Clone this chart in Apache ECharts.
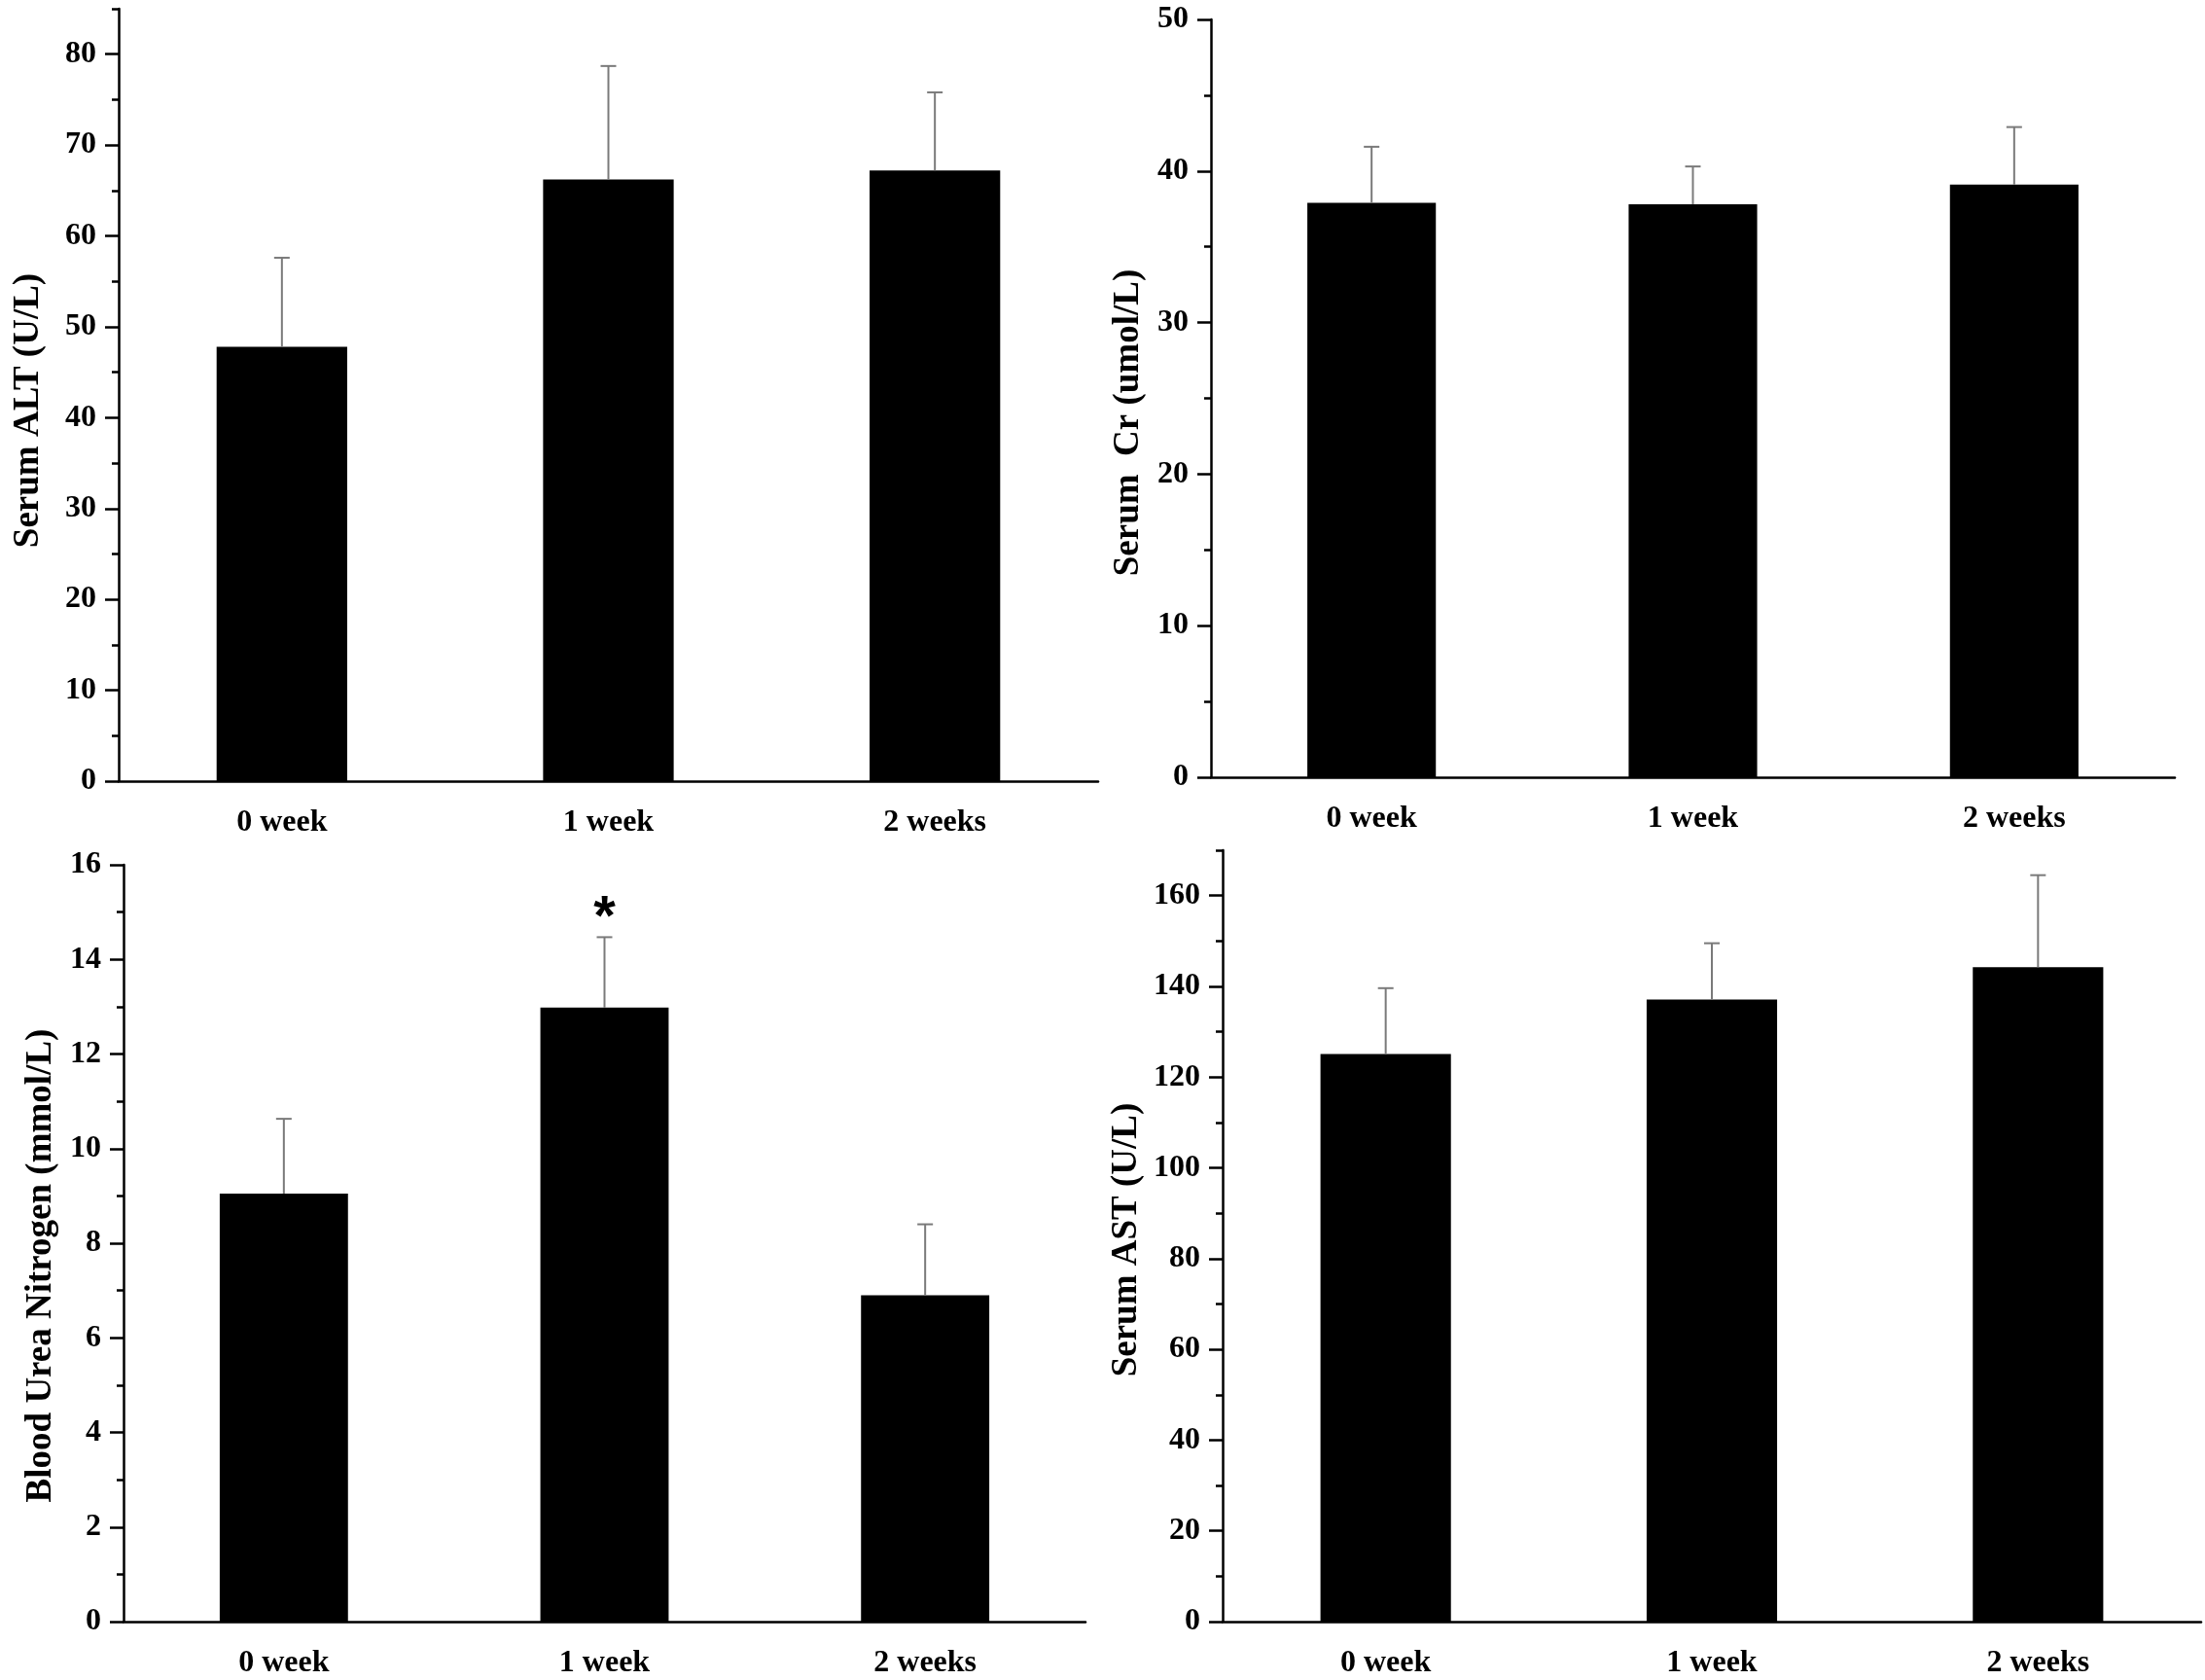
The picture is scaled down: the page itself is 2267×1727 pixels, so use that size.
<!DOCTYPE html>
<html>
<head>
<meta charset="utf-8">
<title>Serum markers</title>
<script src="https://cdn.jsdelivr.net/npm/echarts@6.0.0/dist/echarts.min.js"></script>
<style>
	html, body { margin: 0; padding: 0; background: #fff; }
	#main { width: 2267px; height: 1727px; }
</style>
</head>
<body>
<div id="main"></div>
<script>
	// 分类
	var weeks = ['0 week', '1 week', '2 weeks'];

	// 血清 ALT
	var altMean = [47.8, 66.2, 67.2];
	var altSd = [9.8, 12.5, 8.6];
	// 血清 Cr
	var crMean = [37.9, 37.8, 39.1];
	var crSd = [3.7, 2.5, 3.8];
	// 尿素氮
	var bunMean = [9.05, 12.98, 6.9];
	var bunSd = [1.58, 1.49, 1.5];
	var bunMark = ['', '*', ''];
	// 血清 AST
	var astMean = [125.1, 137.1, 144.2];
	var astSd = [14.5, 12.4, 20.3];

	// y轴刻度
	var altTicks = [0, 10, 20, 30, 40, 50, 60, 70, 80];
	var crTicks = [0, 10, 20, 30, 40, 50];
	var bunTicks = [0, 2, 4, 6, 8, 10, 12, 14, 16];
	var astTicks = [0, 20, 40, 60, 80, 100, 120, 140, 160];

	var FONT = 'Liberation Serif';

	var panels = [
		{ name: 'Serum ALT (U/L)', mean: altMean, sd: altSd, mark: null, ticks: altTicks, max: 85, minor: 5,
		  grid: { left: 122, top: 9, width: 1007, height: 794 }, nameGap: 74, namePad: 32 },
		{ name: 'Serum  Cr (umol/L)', mean: crMean, sd: crSd, mark: null, ticks: crTicks, max: 50, minor: 5,
		  grid: { left: 1245, top: 20, width: 991, height: 779 }, nameGap: 66, namePad: 50 },
		{ name: 'Blood Urea Nitrogen (mmol/L)', mean: bunMean, sd: bunSd, mark: bunMark, ticks: bunTicks, max: 16, minor: 1,
		  grid: { left: 127, top: 889, width: 989, height: 778 }, nameGap: 66, namePad: 46 },
		{ name: 'Serum AST (U/L)', mean: astMean, sd: astSd, mark: null, ticks: astTicks, max: 170, minor: 10,
		  grid: { left: 1257, top: 874, width: 1006, height: 793 }, nameGap: 80, namePad: 8 }
	];

	// 误差线 + 星号
	function renderErr(params, api) {
		var idx = api.value(0);
		var p0 = api.coord([idx, api.value(1)]);
		var p1 = api.coord([idx, api.value(2)]);
		var lineStyle = { stroke: '#7a7a7a', lineWidth: 2 };
		var children = [
			{ type: 'line', shape: { x1: p0[0], y1: p0[1], x2: p1[0], y2: p1[1] }, style: lineStyle },
			{ type: 'line', shape: { x1: p1[0] - 8, y1: p1[1], x2: p1[0] + 8, y2: p1[1] }, style: lineStyle }
		];
		var mark = params.seriesName.indexOf('mark') >= 0 ? api.value(3) : '';
		if (mark) {
			children.push({
				type: 'text',
				x: p1[0], y: p1[1] - 18,
				style: { text: mark, fill: '#000', font: 'bold 58px "Liberation Sans"', align: 'center', verticalAlign: 'middle' }
			});
		}
		return { type: 'group', children: children };
	}

	var grids = [], xAxes = [], yAxes = [], series = [];

	panels.forEach(function(p, i) {
		grids.push(p.grid);

		// 主x轴：标签和居中刻度
		xAxes.push({
			type: 'category', gridIndex: i, data: weeks,
			axisLine: { lineStyle: { color: '#000', width: 2.5 } },
			axisTick: { alignWithLabel: true, length: 15, lineStyle: { color: '#000', width: 2.5 } },
			axisLabel: { color: '#000', fontFamily: FONT, fontWeight: 'bold', fontSize: 32, margin: 27 }
		});
		// 副x轴：分隔处的短刻度
		xAxes.push({
			type: 'category', gridIndex: i, data: weeks, position: 'bottom',
			axisLine: { show: false },
			axisTick: { length: 8, lineStyle: { color: '#000', width: 2.5 } },
			axisLabel: { show: false }
		});

		yAxes.push({
			type: 'value', gridIndex: i, min: 0, max: p.max, position: 'left',
			name: p.name, nameLocation: 'middle', nameGap: p.nameGap,
			nameTextStyle: { color: '#000', fontFamily: FONT, fontWeight: 'bold', fontSize: 37, padding: [0, p.namePad, 0, 0] },
			axisLine: { show: true, lineStyle: { color: '#000', width: 2.5 } },
			axisTick: { show: true, length: 14, customValues: p.ticks, lineStyle: { color: '#000', width: 2.5 } },
			axisLabel: { color: '#000', fontFamily: FONT, fontWeight: 'bold', fontSize: 32, margin: 23, customValues: p.ticks },
			splitLine: { show: false }
		});
		// 次刻度
		yAxes.push({
			type: 'value', gridIndex: i, min: 0, max: p.max, interval: p.minor, position: 'left',
			axisLine: { show: false },
			axisTick: { show: true, length: 7, lineStyle: { color: '#000', width: 2.5 } },
			axisLabel: { show: false },
			splitLine: { show: false }
		});

		series.push({
			type: 'bar', xAxisIndex: 2 * i, yAxisIndex: 2 * i,
			data: p.mean, barWidth: '40%',
			itemStyle: { color: '#000' }
		});

		var errData = p.mean.map(function(m, k) {
			return [k, m, m + p.sd[k], p.mark ? p.mark[k] : ''];
		});
		series.push({
			type: 'custom', name: p.mark ? 'err-mark' : 'err',
			xAxisIndex: 2 * i, yAxisIndex: 2 * i,
			renderItem: renderErr,
			encode: { x: 0, y: [1, 2] },
			data: errData, z: 5
		});
	});

	var myChart = echarts.init(document.getElementById('main'));
	var option = {
		backgroundColor: '#fff',
		animation: false,
		grid: grids,
		xAxis: xAxes,
		yAxis: yAxes,
		series: series
	};
	myChart.setOption(option);
</script>
</body>
</html>
